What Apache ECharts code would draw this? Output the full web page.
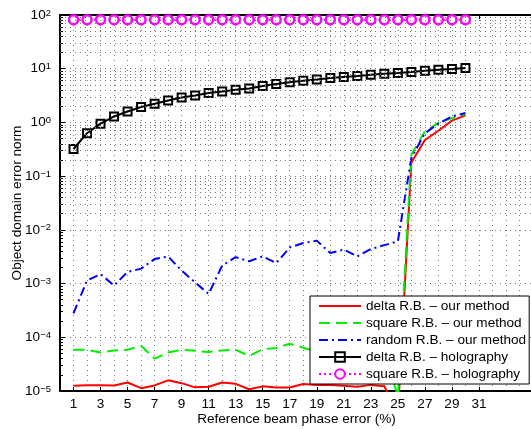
<!DOCTYPE html>
<html>
<head>
<meta charset="utf-8">
<script src="https://cdn.jsdelivr.net/npm/echarts@6/dist/echarts.min.js"></script>
<style>
  html, body { margin: 0; padding: 0; background: #fff; }
  #chart { width: 531px; height: 430px; }
</style>
</head>
<body>
<div id="chart"></div>
<script>
// reference beam phase error (%)
const phaseErr = [1, 2, 3, 4, 5, 6, 7, 8, 9, 10, 11, 12, 13, 14, 15,
  16, 17, 18, 19, 20, 21, 22, 23, 24, 25, 26, 27, 28, 29, 30];

const deltaOur = [1.25e-5, 1.28e-5, 1.28e-5, 1.27e-5, 1.44e-5, 1.13e-5, 1.27e-5, 1.58e-5, 1.4e-5, 1.17e-5,
  1.2e-5, 1.44e-5, 1.36e-5, 1.08e-5, 1.22e-5, 1.16e-5, 1.16e-5, 1.35e-5, 1.3e-5, 1.3e-5,
  1.25e-5, 1.2e-5, 1.3e-5, 1.23e-5, 3.5e-6, 0.18, 0.47, 0.70, 1.08, 1.35];

const squareOur = [5.85e-5, 5.85e-5, 5.2e-5, 5.7e-5, 5.85e-5, 6.95e-5, 4.0e-5, 5.2e-5, 5.85e-5, 5.6e-5,
  5.3e-5, 5.7e-5, 5.85e-5, 4.5e-5, 6.0e-5, 6.3e-5, 7.6e-5, 6.4e-5, 5.4e-5, 5.6e-5,
  6.0e-5, 5.5e-5, 5.8e-5, 5.6e-5, 8e-6, 0.25, 0.68, 0.98, 1.2, 1.43];

const randomOur = [2.8e-4, 1.14e-3, 1.5e-3, 9.2e-4, 1.64e-3, 1.9e-3, 2.86e-3, 3.2e-3, 1.75e-3, 1.05e-3,
  6.4e-4, 2.17e-3, 3.1e-3, 2.6e-3, 3.2e-3, 2.4e-3, 4.7e-3, 5.7e-3, 6.3e-3, 3.7e-3,
  4.3e-3, 3.2e-3, 4.4e-3, 5.2e-3, 6.1e-3, 0.22, 0.63, 0.95, 1.29, 1.5];

const deltaHolo = [0.32, 0.63, 0.95, 1.29, 1.6, 1.94, 2.23, 2.57, 2.92, 3.18,
  3.52, 3.78, 4.07, 4.3, 4.78, 5.2, 5.6, 6.0, 6.3, 6.7,
  7.0, 7.3, 7.7, 8.1, 8.3, 8.7, 9.2, 9.6, 9.9, 10.3];

const squareHolo = [82, 82, 82, 82, 82, 82, 82, 82, 82, 82,
  82, 82, 82, 82, 82, 82, 82, 82, 82, 82,
  82, 82, 82, 82, 82, 82, 82, 82, 82, 82];

const xTickLabels = [1, 3, 5, 7, 9, 11, 13, 15, 17, 19, 21, 23, 25, 27, 29, 31];

const seriesNames = [
  'delta R.B. \u2013 our method',
  'square R.B. \u2013 our method',
  'random R.B. \u2013 our method',
  'delta R.B. \u2013 holography',
  'square R.B. \u2013 holography'
];

const fontFamily = '"Liberation Sans", Arial, Helvetica, sans-serif';
const fontSize = 13.6;
const gridDot = { color: '#7a7a7a', width: 1, type: [1, 4] };

// minor log grid lines (2..9 x each decade)
const minorY = [];
for (let e = -5; e < 2; e++) {
  for (let m = 2; m <= 9; m++) minorY.push(m * Math.pow(10, e));
}

const pairs = arr => phaseErr.map((x, i) => [x, arr[i]]);

const chart = echarts.init(document.getElementById('chart'), null, { renderer: 'canvas' });

// plain line legend entries (no marker) for the first three series
const legendData = seriesNames.map((name, i) =>
  i < 3 ? { name, itemStyle: { opacity: 0 } } : { name });

const option = {
  animation: false,
  backgroundColor: '#fff',
  textStyle: { fontFamily, color: '#000' },
  grid: { left: 60, top: 15, right: -2, bottom: 39, outerBoundsMode: 'none', containLabel: false },
  legend: {
    data: legendData,
    orient: 'vertical',
    left: 310,
    top: 296,
    padding: [2, 3, 2, 8],
    itemWidth: 42,
    itemHeight: 12,
    itemGap: 1,
    backgroundColor: '#fff',
    borderColor: '#000',
    borderWidth: 1,
    borderRadius: 0,
    z: 10,
    textStyle: { fontFamily, fontSize, color: '#000', lineHeight: 16 }
  },
  xAxis: [{
    type: 'value',
    min: 0,
    max: 35,
    interval: 1,
    name: 'Reference beam phase error (%)',
    nameLocation: 'middle',
    nameGap: 21,
    nameMoveOverlap: false,
    nameTextStyle: { fontFamily, fontSize, color: '#000' },
    axisLine: { show: true, onZero: false, lineStyle: { color: '#000', width: 2 } },
    axisTick: { show: false },
    axisLabel: {
      customValues: xTickLabels,
      margin: 6,
      fontFamily, fontSize, color: '#000'
    },
    splitLine: { show: true, lineStyle: gridDot }
  }, {
    type: 'value',
    position: 'top',
    min: 0,
    max: 35,
    interval: 1,
    axisLine: { show: true, onZero: false, lineStyle: { color: '#000', width: 2 } },
    axisTick: { show: true, inside: true, length: 4, customValues: xTickLabels, lineStyle: { color: '#000' } },
    axisLabel: { show: false },
    splitLine: { show: false }
  }, {
    type: 'value',
    position: 'bottom',
    min: 0,
    max: 35,
    interval: 1,
    axisLine: { show: false },
    axisTick: { show: true, inside: true, length: 4, customValues: xTickLabels, lineStyle: { color: '#000' } },
    axisLabel: { show: false },
    splitLine: { show: false }
  }],
  yAxis: [{
    type: 'log',
    logBase: 10,
    min: 1e-5,
    max: 1e2,
    interval: 1,
    position: 'left',
    name: 'Object domain error norm',
    nameLocation: 'middle',
    nameGap: 36,
    nameMoveOverlap: false,
    nameTextStyle: { fontFamily, fontSize, color: '#000' },
    axisLine: { show: true, onZero: false, lineStyle: { color: '#000', width: 2 } },
    axisTick: { show: true, inside: true, length: 5, lineStyle: { color: '#000' } },
    axisLabel: {
      margin: 9,
      formatter: v => {
        const e = Math.round(Math.log10(v));
        return '{b|10}{e|' + (e < 0 ? '\u2212' + (-e) : e) + '}';
      },
      rich: {
        b: { fontFamily, fontSize, color: '#000', lineHeight: 14, verticalAlign: 'bottom' },
        e: { fontFamily, fontSize: 9.5, color: '#000', lineHeight: 10, verticalAlign: 'top', padding: [0, 0, 7, 0] }
      }
    },
    splitLine: { show: true, lineStyle: gridDot }
  }, {
    // minor ticks on the left edge
    type: 'log',
    logBase: 10,
    min: 1e-5,
    max: 1e2,
    position: 'left',
    axisLine: { show: false, onZero: false },
    axisTick: { show: true, inside: true, length: 3, customValues: minorY, lineStyle: { color: '#000' } },
    axisLabel: { show: false },
    splitLine: { show: false }
  }],
  series: [
    {
      // minor grid
      type: 'line',
      data: [],
      z: 1,
      silent: true,
      markLine: {
        silent: true,
        symbol: 'none',
        animation: false,
        label: { show: false },
        lineStyle: gridDot,
        emphasis: { disabled: true },
        data: minorY.map(v => ({ yAxis: v }))
      }
    },
    {
      name: seriesNames[0],
      type: 'line',
      data: pairs(deltaOur),
      showSymbol: false,
      symbol: 'none',
      z: 3,
      lineStyle: { color: '#ff0000', width: 2 },
      itemStyle: { color: '#ff0000' }
    },
    {
      name: seriesNames[1],
      type: 'line',
      data: pairs(squareOur),
      showSymbol: false,
      symbol: 'none',
      z: 3,
      lineStyle: { color: '#00ee00', width: 2, type: [11, 6] },
      itemStyle: { color: '#00ee00' }
    },
    {
      name: seriesNames[2],
      type: 'line',
      data: pairs(randomOur),
      showSymbol: false,
      symbol: 'none',
      z: 3,
      lineStyle: { color: '#0000ff', width: 2, type: [9, 4, 2, 4] },
      itemStyle: { color: '#0000ff' }
    },
    {
      name: seriesNames[3],
      type: 'line',
      data: pairs(deltaHolo),
      symbol: 'rect',
      symbolSize: 8,
      z: 3,
      lineStyle: { color: '#000', width: 2 },
      itemStyle: { color: 'rgba(0,0,0,0)', borderColor: '#000', borderWidth: 2 }
    },
    {
      name: seriesNames[4],
      type: 'line',
      data: pairs(squareHolo),
      symbol: 'circle',
      symbolSize: 9,
      z: 3,
      lineStyle: { color: '#ff00ff', width: 2, type: [2, 3] },
      itemStyle: { color: '#fff', borderColor: '#ff00ff', borderWidth: 2.5 }
    }
  ]
};

chart.setOption(option);
</script>
</body>
</html>
